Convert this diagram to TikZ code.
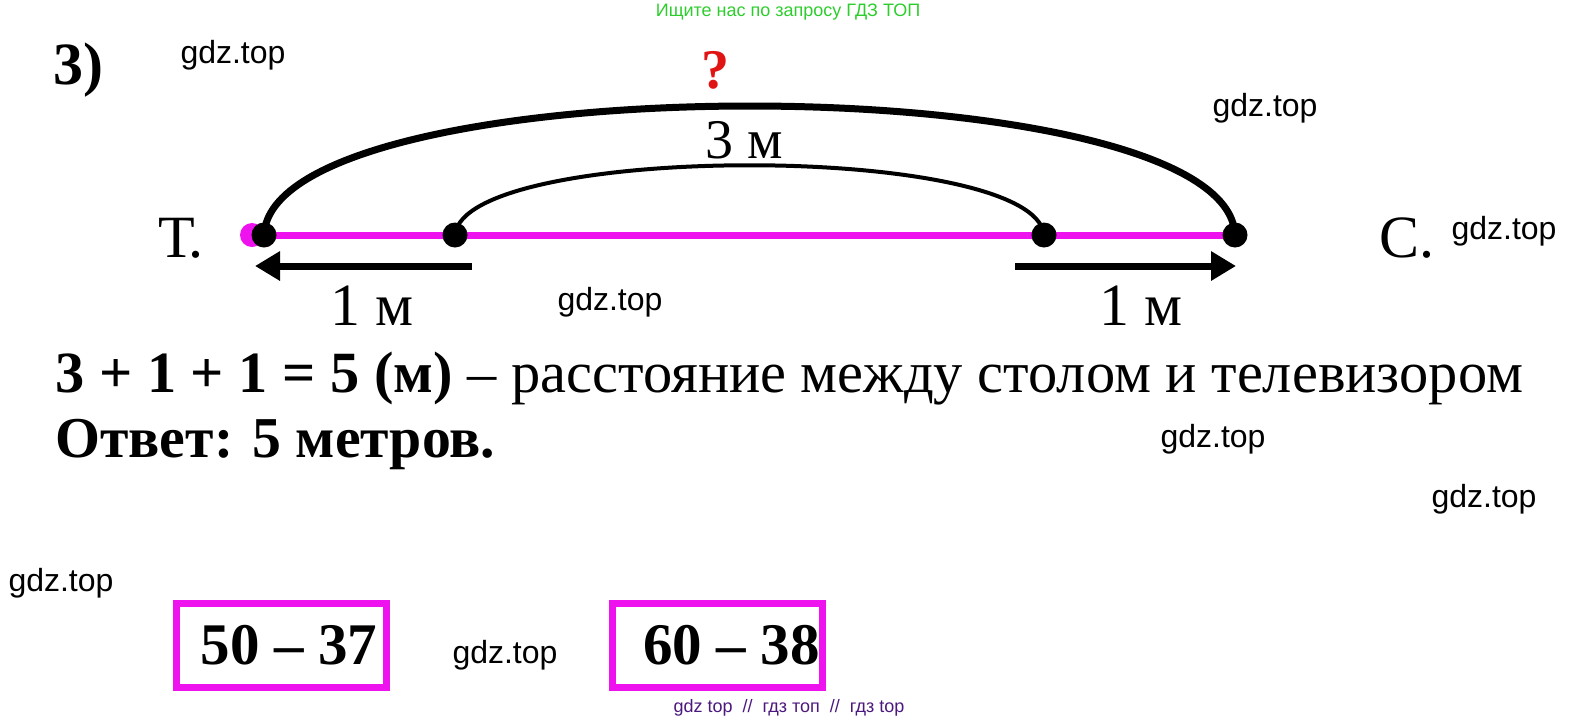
\documentclass[tikz,border=0pt]{standalone}
\usepackage{fontspec}
\setmainfont{Liberation Serif}
\newfontfamily\wmfont{Liberation Sans}
\usetikzlibrary{arrows.meta,backgrounds}
\definecolor{segpink}{RGB}{238,18,238}
\definecolor{wmgreen}{RGB}{45,205,45}
\definecolor{wmpurple}{RGB}{75,25,125}
\definecolor{askred}{RGB}{225,20,20}
\tikzset{
  dot/.style={circle,fill=black,inner sep=0pt,minimum size=12.5pt},
  wm/.style={font=\wmfont\fontsize{16}{18}\selectfont},
  big/.style={font=\fontsize{30}{34}\selectfont},
  bigbold/.style={font=\fontsize{30}{34}\selectfont\bfseries},
  taskbox/.style={draw=segpink,line width=3.5pt,minimum width=105pt,minimum height=42pt,inner sep=0pt,font=\fontsize{29.5}{34}\selectfont\bfseries},
  steparrow/.style={line width=3.5pt,-{Triangle[length=12.5pt,width=14pt]}}
}
\begin{document}
\begin{tikzpicture}[x=0.5pt,y=-0.5pt]
\useasboundingbox (0,0) rectangle (1576,724);
\node[font=\wmfont\fontsize{9}{11}\selectfont,text=wmgreen] (top) at (788,12) {Ищите нас по запросу ГДЗ ТОП};
\node[bigbold] (num) at (78,70) {3)};

% points on the segment
\node[circle,fill=segpink,inner sep=0pt,minimum size=12pt] (tv0) at (252,235) {};
\node[dot] (tv) at (264,235) {};
\node[dot] (a) at (455,235) {};
\node[dot] (b) at (1044,235) {};
\node[dot] (desk) at (1235,235) {};
\begin{scope}[on background layer]
  \draw[segpink,line width=3.5pt] (tv0.center) -- (desk.center);
  \draw[line width=3.5pt] (tv.center) .. controls (272,63) and (1228,63) .. (desk.center);
  \draw[line width=2pt] (a.center) .. controls (464,142) and (1035,142) .. (b.center);
\end{scope}

\node[font=\fontsize{28}{30}\selectfont\bfseries,text=askred] (ask) at (715,70) {?};
\node[font=\fontsize{28}{30}\selectfont] (three) at (744,140) {3 м};
\node[big] (tlab) at (181,238) {Т.};
\node[big] (clab) at (1407,238) {С.};

\coordinate (l0) at (472,266);
\coordinate (l1) at (255,266);
\coordinate (r0) at (1015,266);
\coordinate (r1) at (1236,266);
\draw[steparrow] (l0) -- (l1);
\draw[steparrow] (r0) -- (r1);
\node[big] (one1) at (372,306) {1 м};
\node[big] (one2) at (1141,306) {1 м};

\node[font=\fontsize{29.2}{34}\selectfont,anchor=base west,inner sep=0pt] (sum) at (55,392) {\textbf{3 + 1 + 1 = 5 (м)} – расстояние между столом и телевизором};
\node[font=\fontsize{28.9}{34}\selectfont\bfseries,anchor=base west,inner sep=0pt] (ans) at (55,457) {Ответ: 5 метров.};

\node[taskbox] (ex1) at (281.5,645.5) {\hspace*{7.5pt}50 – 37};
\node[taskbox] (ex2) at (717,645.5) {\hspace*{14.5pt}60 – 38};

\node[wm] (w1) at (233,55) {gdz.top};
\node[wm] (w2) at (1265,108) {gdz.top};
\node[wm] (w3) at (1504,231) {gdz.top};
\node[wm] (w4) at (610,302) {gdz.top};
\node[wm] (w5) at (1213,439) {gdz.top};
\node[wm] (w6) at (1484,499) {gdz.top};
\node[wm] (w7) at (61,583) {gdz.top};
\node[wm] (w8) at (505,655) {gdz.top};
\node[font=\wmfont\fontsize{9}{11}\selectfont,text=wmpurple] (bot) at (789,708) {gdz top \ // \ гдз топ \ // \ гдз top};
\end{tikzpicture}
\end{document}
